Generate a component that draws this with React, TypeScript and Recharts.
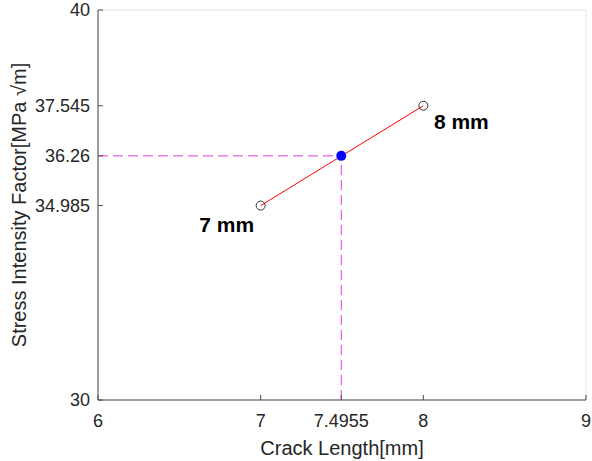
import React from 'react';
import { ComposedChart, Scatter, XAxis, YAxis, CartesianGrid, Label } from 'recharts';

// measured points (crack length in mm, K in MPa sqrt(m))
const crackLength = [7, 8];
const stressFactor = [34.985, 37.545];
const endLabels = ['7 mm', '8 mm'];

// interpolated target
const targetLength = 7.4955;
const targetFactor = 36.26;

const xTicks = [6, 7, 7.4955, 8, 9];
const yTicks = [30, 34.985, 36.26, 37.545, 40];
const xDomain = [6, 9];
const yDomain = [30, 40];

const FONT = '"Liberation Sans", Arial, sans-serif';
const AXIS_COLOR = '#4d4d4d';
const TEXT_COLOR = '#262626';
const GUIDE_COLOR = '#e03ce0';
const TICK_LEN = 5;

// label offsets from the marker (px), same order as endLabels
const labelOffsets = [
  { dx: -34, dy: 26 },
  { dx: 38, dy: 23 },
];

const endPoints = crackLength.map((x, i) => ({ x, y: stressFactor[i], label: endLabels[i], idx: i }));
const targetPoint = [{ x: targetLength, y: targetFactor }];
const hGuide = [
  { x: xDomain[0], y: targetFactor },
  { x: targetLength, y: targetFactor },
];
const vGuide = [
  { x: targetLength, y: yDomain[0] },
  { x: targetLength, y: targetFactor },
];

const BottomTick = (props: any) => {
  const { x, y, payload } = props;
  return (
    <g>
      <line x1={x} y1={y} x2={x} y2={y - TICK_LEN} stroke={AXIS_COLOR} />
      <text x={x} y={y + 27} textAnchor="middle" fill={TEXT_COLOR} fontSize={18} fontFamily={FONT}>
        {payload.value}
      </text>
    </g>
  );
};

const TopTick = (props: any) => {
  const { x, y } = props;
  return <line x1={x} y1={y} x2={x} y2={y + TICK_LEN} stroke={AXIS_COLOR} />;
};

const LeftTick = (props: any) => {
  const { x, y, payload } = props;
  return (
    <g>
      <line x1={x} y1={y} x2={x + TICK_LEN} y2={y} stroke={AXIS_COLOR} />
      <text x={x - 8} y={y + 6} textAnchor="end" fill={TEXT_COLOR} fontSize={18} fontFamily={FONT}>
        {payload.value}
      </text>
    </g>
  );
};

const RightTick = (props: any) => {
  const { x, y } = props;
  return <line x1={x} y1={y} x2={x - TICK_LEN} y2={y} stroke={AXIS_COLOR} />;
};

const OpenCircle = (props: any) => {
  const { cx, cy, payload } = props;
  const off = labelOffsets[payload.idx];
  return (
    <g>
      <circle cx={cx} cy={cy} r={4.5} fill="none" stroke="#333333" strokeWidth={1} />
      <text
        x={cx + off.dx}
        y={cy + off.dy}
        textAnchor="middle"
        fontSize={21}
        fontWeight="bold"
        fontFamily={FONT}
        fill="#000000"
      >
        {payload.label}
      </text>
    </g>
  );
};

const BlueDot = (props: any) => <circle cx={props.cx} cy={props.cy} r={5} fill="#0000ff" />;
const NoShape = () => null;

const YLabel = (props: any) => {
  const vb = props.viewBox;
  const cx = vb.x + 19;
  const cy = vb.y + vb.height / 2;
  return (
    <text
      x={cx}
      y={cy}
      transform={`rotate(-90, ${cx}, ${cy})`}
      textAnchor="middle"
      dominantBaseline="central"
      fill={TEXT_COLOR}
      fontSize={20}
      fontFamily={FONT}
    >
      Stress Intensity Factor[MPa √m]
    </text>
  );
};

const App: React.FC = () => {
  return (
    <div style={{ position: 'absolute', left: 0, top: 0, width: 592, height: 461, background: '#fff' }}>
      <ComposedChart width={592} height={461} margin={{ top: 10, right: 6, bottom: 0, left: 0 }}>
        <CartesianGrid stroke="#e3e3e3" />
        <XAxis
          xAxisId="b"
          type="number"
          dataKey="x"
          domain={xDomain}
          ticks={xTicks}
          interval={0}
          height={61}
          tickSize={0}
          tickMargin={0}
          tickLine={false}
          axisLine={{ stroke: AXIS_COLOR }}
          tick={<BottomTick />}
          allowDataOverflow
        >
          <Label value="Crack Length[mm]" position="insideBottom" offset={6} fill={TEXT_COLOR} fontSize={20} fontFamily={FONT} />
        </XAxis>
        <XAxis
          xAxisId="t"
          orientation="top"
          type="number"
          dataKey="x"
          domain={xDomain}
          ticks={xTicks}
          interval={0}
          height={0}
          tickSize={0}
          tickMargin={0}
          tickLine={false}
          axisLine={{ stroke: AXIS_COLOR }}
          tick={<TopTick />}
          allowDataOverflow
        />
        <YAxis
          yAxisId="l"
          type="number"
          dataKey="y"
          domain={yDomain}
          ticks={yTicks}
          interval={0}
          width={98}
          tickSize={0}
          tickMargin={0}
          tickLine={false}
          axisLine={{ stroke: AXIS_COLOR }}
          tick={<LeftTick />}
          allowDataOverflow
        >
          <Label content={<YLabel />} />
        </YAxis>
        <YAxis
          yAxisId="r"
          orientation="right"
          type="number"
          dataKey="y"
          domain={yDomain}
          ticks={yTicks}
          interval={0}
          width={0}
          tickSize={0}
          tickMargin={0}
          tickLine={false}
          axisLine={{ stroke: AXIS_COLOR }}
          tick={<RightTick />}
          allowDataOverflow
        />

        <Scatter
          xAxisId="b"
          yAxisId="l"
          data={hGuide}
          line={{ stroke: GUIDE_COLOR, strokeWidth: 1, strokeDasharray: '10 5' }}
          shape={<NoShape />}
          isAnimationActive={false}
        />
        <Scatter
          xAxisId="b"
          yAxisId="l"
          data={vGuide}
          line={{ stroke: GUIDE_COLOR, strokeWidth: 1, strokeDasharray: '10 5' }}
          shape={<NoShape />}
          isAnimationActive={false}
        />
        <Scatter
          xAxisId="b"
          yAxisId="l"
          data={endPoints}
          line={{ stroke: '#ff0000', strokeWidth: 1 }}
          shape={<OpenCircle />}
          isAnimationActive={false}
        />
        <Scatter
          xAxisId="b"
          yAxisId="l"
          data={targetPoint}
          shape={<BlueDot />}
          isAnimationActive={false}
        />
      </ComposedChart>
    </div>
  );
};

export default App;
